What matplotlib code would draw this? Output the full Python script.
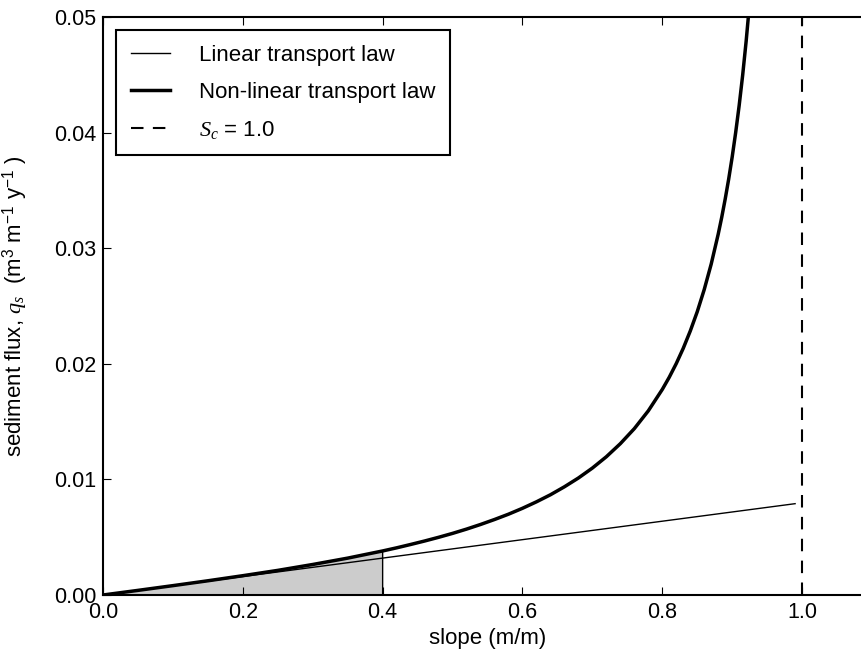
import matplotlib
matplotlib.use("Agg")
import matplotlib.pyplot as plt

plt.rcParams['font.family'] = ['Liberation Sans', 'DejaVu Sans']
plt.rcParams['mathtext.fontset'] = 'custom'
plt.rcParams['mathtext.rm'] = 'Liberation Sans'
plt.rcParams['mathtext.it'] = 'Liberation Serif:italic'
plt.rcParams['mathtext.bf'] = 'Liberation Sans:bold'

# Linear transport law
linear_slope = [0.0, 0.99]
linear_flux = [0.0, 0.0079]

# Non-linear transport law
nonlin_slope = [0.0, 0.05, 0.1, 0.15, 0.2, 0.25, 0.3, 0.35, 0.4, 0.42, 0.44, 0.46, 0.48,
                0.5, 0.52, 0.54, 0.56, 0.58, 0.6, 0.62, 0.64, 0.66, 0.68, 0.7, 0.72,
                0.74, 0.76, 0.78, 0.8, 0.81, 0.82, 0.83, 0.84, 0.85, 0.86, 0.87, 0.88,
                0.885, 0.89, 0.895, 0.9, 0.905, 0.91, 0.915, 0.92, 0.925]
nonlin_flux = [0.0, 0.00040, 0.00081, 0.00123, 0.00167, 0.00213, 0.00264, 0.00319,
               0.00381, 0.00408, 0.00437, 0.00467, 0.00499, 0.00533, 0.00570, 0.00610,
               0.00653, 0.00699, 0.00750, 0.00806, 0.00867, 0.00936, 0.01012, 0.01098,
               0.01196, 0.01309, 0.01439, 0.01593, 0.01778, 0.01884, 0.02002, 0.02134,
               0.02283, 0.02450, 0.02642, 0.02863, 0.03121, 0.03266, 0.03425, 0.03598,
               0.03789, 0.04001, 0.04235, 0.04497, 0.04792, 0.05126]

critical_slope = 1.0
shade_limit = 0.4

xticks = [0.0, 0.2, 0.4, 0.6, 0.8, 1.0]
yticks = [0.00, 0.01, 0.02, 0.03, 0.04, 0.05]

FS = 16

fig = plt.figure(figsize=(8.61, 6.5), dpi=100)
ax = fig.add_axes([103/861, 55/650, 769/861, 578/650])

# shaded region under non-linear curve up to slope 0.4
sx = [s for s in nonlin_slope if s <= shade_limit]
sy = [f for s, f in zip(nonlin_slope, nonlin_flux) if s <= shade_limit]
poly_x = sx + [shade_limit]
poly_y = sy + [0.0]
ax.fill(poly_x, poly_y, facecolor='#cccccc', edgecolor='black', linewidth=1.0, zorder=1)

ax.plot(linear_slope, linear_flux, color='black', linewidth=1.0, label='Linear transport law', zorder=3)
ax.plot(nonlin_slope, nonlin_flux, color='black', linewidth=2.5, label='Non-linear transport law', zorder=3)
ax.axvline(critical_slope, color='black', linestyle='--', linewidth=1.5, dashes=(6, 4.5),
           label='$S_c$ = 1.0', zorder=2)

ax.set_xlim(0, 1.1)
ax.set_ylim(0, 0.05)
ax.set_xticks(xticks)
ax.set_yticks(yticks)
ax.set_xticklabels(['%.1f' % v for v in xticks])
ax.set_yticklabels(['%.2f' % v for v in yticks])
ax.tick_params(direction='in', length=6, width=0.8, labelsize=FS - 0.5, top=True, right=True, pad=5)
for sp in ax.spines.values():
    sp.set_linewidth(1.5)

ax.set_xlabel('slope (m/m)', fontsize=FS, labelpad=3.5)
ax.set_ylabel('sediment flux, $q_s$  (m$^3$ m$^{-1}$ y$^{-1}$ )', fontsize=FS, labelpad=17)

leg = ax.legend(loc='upper left', fontsize=FS, fancybox=False, framealpha=1,
                edgecolor='black', borderpad=0.65, handlelength=1.75, handletextpad=1.3,
                labelspacing=0.72, bbox_to_anchor=(0.0, 1.0), borderaxespad=0.6)
leg.get_frame().set_linewidth(1.5)

fig.savefig('out.png', dpi=100)
